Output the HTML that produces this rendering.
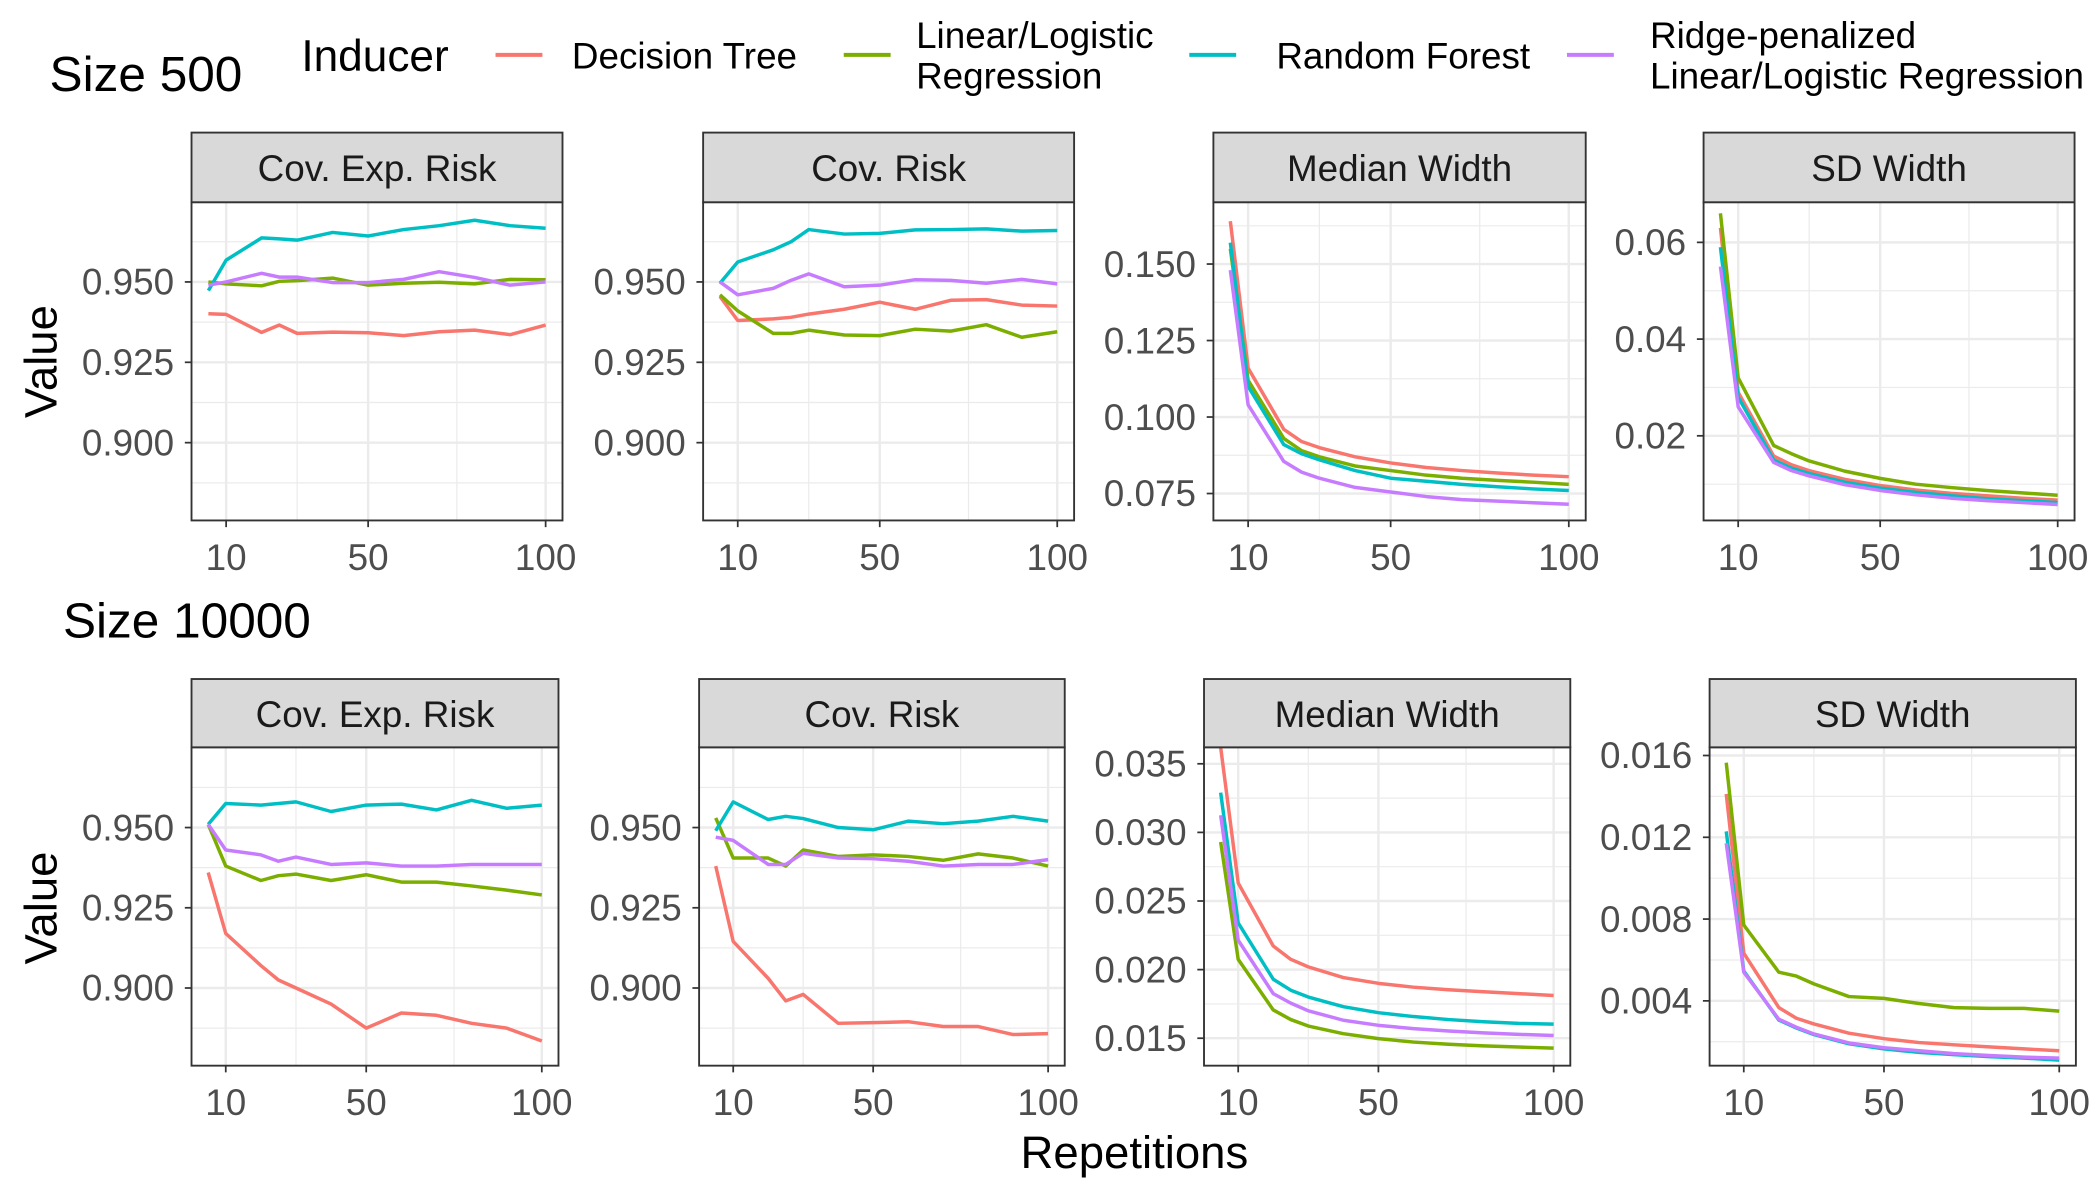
<!DOCTYPE html>
<html><head><meta charset="utf-8">
<style>
html,body{margin:0;padding:0;background:#fff;}
svg{display:block;font-family:"Liberation Sans",Arial,sans-serif;}
</style></head>
<body>
<svg id="chart" width="2100" height="1200" viewBox="0 0 1568 896" xmlns="http://www.w3.org/2000/svg">
  <rect x="0" y="0" width="1568" height="896" fill="#fff"/>
  <text x="37" y="68" font-size="37" fill="#000">Size 500</text>
  <text x="47" y="476" font-size="37" fill="#000">Size 10000</text>
  <g>
    <text x="225" y="53" font-size="33" fill="#000">Inducer</text>
    <g>
      <line x1="370" y1="41" x2="405" y2="41" stroke="#F8766D" stroke-width="3"/>
      <text x="427" y="51" font-size="27.5" fill="#000">Decision Tree</text>
    </g>
    <g>
      <line x1="630" y1="41" x2="665" y2="41" stroke="#7CAE00" stroke-width="3"/>
      <text x="684" y="36" font-size="27.5" fill="#000">Linear/Logistic</text>
      <text x="684" y="66" font-size="27.5" fill="#000">Regression</text>
    </g>
    <g>
      <line x1="888" y1="41" x2="923" y2="41" stroke="#00BFC4" stroke-width="3"/>
      <text x="953" y="51" font-size="27.5" fill="#000">Random Forest</text>
    </g>
    <g>
      <line x1="1170" y1="41" x2="1205" y2="41" stroke="#C77CFF" stroke-width="3"/>
      <text x="1232" y="36" font-size="27.5" fill="#000">Ridge-penalized</text>
      <text x="1232" y="66" font-size="27.5" fill="#000">Linear/Logistic Regression</text>
    </g>
  </g>
  <text transform="translate(42,270) rotate(-90)" text-anchor="middle" font-size="34" fill="#000">Value</text>
  <text transform="translate(42,678) rotate(-90)" text-anchor="middle" font-size="34" fill="#000">Value</text>
  <text x="847" y="872" text-anchor="middle" font-size="34" fill="#000">Repetitions</text>
  <g id="panels"></g>
</svg>
<script>
// ---- data ----
const repetitions = [5,10,20,25,30,40,50,60,70,80,90,100];
const seriesNames = ["Decision Tree","Linear/Logistic Regression","Random Forest","Ridge-penalized Linear/Logistic Regression"];
const panelTitles = ["Cov. Exp. Risk","Cov. Risk","Median Width","SD Width","Cov. Exp. Risk","Cov. Risk","Median Width","SD Width"];

// Size 500
const s500CovExpTree  = [0.9401,0.9399,0.9343,0.9366,0.9340,0.9344,0.9342,0.9333,0.9345,0.9350,0.9336,0.9366];
const s500CovExpLin   = [0.9500,0.9494,0.9488,0.9502,0.9504,0.9512,0.9490,0.9496,0.9499,0.9494,0.9508,0.9507];
const s500CovExpRF    = [0.9473,0.9568,0.9637,0.9634,0.9630,0.9654,0.9643,0.9663,0.9675,0.9692,0.9675,0.9667];
const s500CovExpRidge = [0.9490,0.9500,0.9527,0.9515,0.9515,0.9498,0.9498,0.9508,0.9532,0.9514,0.9490,0.9500];

const s500CovTree  = [0.9455,0.9380,0.9385,0.9390,0.9400,0.9415,0.9437,0.9415,0.9443,0.9445,0.9428,0.9425];
const s500CovLin   = [0.9460,0.9410,0.9340,0.9340,0.9350,0.9335,0.9333,0.9353,0.9347,0.9367,0.9328,0.9345];
const s500CovRF    = [0.9496,0.9562,0.9600,0.9625,0.9663,0.9649,0.9651,0.9662,0.9663,0.9665,0.9658,0.9660];
const s500CovRidge = [0.9500,0.9460,0.9480,0.9505,0.9525,0.9485,0.9490,0.9507,0.9505,0.9496,0.9508,0.9494];

const s500MedTree  = [0.164,0.116,0.096,0.092,0.090,0.087,0.085,0.0835,0.0825,0.0817,0.0810,0.0805];
const s500MedLin   = [0.155,0.112,0.093,0.089,0.087,0.084,0.0825,0.0810,0.0800,0.0793,0.0787,0.0780];
const s500MedRF    = [0.157,0.110,0.091,0.088,0.086,0.0825,0.0800,0.0790,0.0780,0.0772,0.0765,0.0760];
const s500MedRidge = [0.148,0.104,0.0855,0.082,0.080,0.077,0.0755,0.0740,0.0730,0.0725,0.0720,0.0715];

const s500SdTree  = [0.063,0.029,0.0158,0.0140,0.0128,0.0110,0.0097,0.0088,0.0081,0.0076,0.0071,0.0067];
const s500SdLin   = [0.066,0.032,0.0180,0.0163,0.0148,0.0127,0.0112,0.0100,0.0093,0.0087,0.0082,0.0077];
const s500SdRF    = [0.059,0.028,0.0150,0.0133,0.0122,0.0104,0.0092,0.0083,0.0076,0.0070,0.0066,0.0062];
const s500SdRidge = [0.055,0.026,0.0145,0.0128,0.0117,0.0099,0.0087,0.0078,0.0071,0.0066,0.0062,0.0058];

// Size 10000
const s10kCovExpTree  = [0.9360,0.9170,0.9070,0.9025,0.9000,0.8950,0.8875,0.8922,0.8915,0.8890,0.8875,0.8835];
const s10kCovExpLin   = [0.9510,0.9380,0.9335,0.9350,0.9355,0.9335,0.9353,0.9330,0.9330,0.9318,0.9305,0.9290];
const s10kCovExpRF    = [0.9510,0.9575,0.9570,0.9575,0.9580,0.9550,0.9570,0.9573,0.9555,0.9585,0.9560,0.9570];
const s10kCovExpRidge = [0.9510,0.9430,0.9415,0.9395,0.9408,0.9385,0.9390,0.9380,0.9380,0.9385,0.9385,0.9385];

const s10kCovTree  = [0.9380,0.9145,0.9030,0.8960,0.8980,0.8890,0.8892,0.8895,0.8880,0.8880,0.8855,0.8858];
const s10kCovLin   = [0.9530,0.9405,0.9405,0.9380,0.9430,0.9410,0.9415,0.9410,0.9398,0.9418,0.9405,0.9380];
const s10kCovRF    = [0.9490,0.9580,0.9525,0.9535,0.9528,0.9500,0.9493,0.9520,0.9512,0.9520,0.9535,0.9520];
const s10kCovRidge = [0.9470,0.9460,0.9385,0.9385,0.9420,0.9405,0.9403,0.9395,0.9380,0.9385,0.9385,0.9400];

const s10kMedTree  = [0.0362,0.02631,0.02172,0.02075,0.02020,0.01942,0.01900,0.01872,0.01853,0.01839,0.01825,0.01811];
const s10kMedLin   = [0.0293,0.02075,0.01706,0.01636,0.01589,0.01533,0.01497,0.01472,0.01456,0.01444,0.01436,0.01428];
const s10kMedRF    = [0.0329,0.02340,0.01930,0.01850,0.01800,0.01730,0.01686,0.01658,0.01636,0.01620,0.01608,0.01603];
const s10kMedRidge = [0.03125,0.02214,0.01825,0.01756,0.01700,0.01631,0.01594,0.01570,0.01553,0.01539,0.01528,0.01520];

const s10kSdTree  = [0.01412,0.00633,0.00367,0.00315,0.00287,0.00242,0.00215,0.00196,0.00185,0.00175,0.00165,0.00156];
const s10kSdLin   = [0.01565,0.00771,0.00540,0.00521,0.00483,0.00421,0.00412,0.00387,0.00367,0.00363,0.00363,0.00350];
const s10kSdRF    = [0.01229,0.00546,0.00306,0.00267,0.00235,0.00190,0.00165,0.00148,0.00137,0.00127,0.00120,0.00110];
const s10kSdRidge = [0.01171,0.00540,0.00310,0.00271,0.00238,0.00194,0.00171,0.00156,0.00142,0.00133,0.00125,0.00120];

const xTickValues = [10,50,100];
const xTickLabels = ["10","50","100"];
const yTicksCov = [0.900,0.925,0.950];
const yTickLabelsCov = ["0.900","0.925","0.950"];
const yTicksMed500 = [0.075,0.100,0.125,0.150];
const yTickLabelsMed500 = ["0.075","0.100","0.125","0.150"];
const yTicksSd500 = [0.02,0.04,0.06];
const yTickLabelsSd500 = ["0.02","0.04","0.06"];
const yTicksMed10k = [0.015,0.020,0.025,0.030,0.035];
const yTickLabelsMed10k = ["0.015","0.020","0.025","0.030","0.035"];
const yTicksSd10k = [0.004,0.008,0.012,0.016];
const yTickLabelsSd10k = ["0.004","0.008","0.012","0.016"];

// ---- layout ----
const colors = ["#F8766D","#7CAE00","#00BFC4","#C77CFF"];
const panels = [
  {x0:143,x1:420,sy:99,y0:151,y1:388.6,ymin:0.8758,ymax:0.9748,ticks:yTicksCov,labels:yTickLabelsCov,series:[s500CovExpTree,s500CovExpLin,s500CovExpRF,s500CovExpRidge],name:"size500-cov-exp-risk"},
  {x0:525,x1:802,sy:99,y0:151,y1:388.6,ymin:0.8758,ymax:0.9748,ticks:yTicksCov,labels:yTickLabelsCov,series:[s500CovTree,s500CovLin,s500CovRF,s500CovRidge],name:"size500-cov-risk"},
  {x0:906,x1:1184,sy:99,y0:151,y1:388.6,ymin:0.0662,ymax:0.1702,ticks:yTicksMed500,labels:yTickLabelsMed500,series:[s500MedTree,s500MedLin,s500MedRF,s500MedRidge],name:"size500-median-width"},
  {x0:1272,x1:1549,sy:99,y0:151,y1:388.6,ymin:0.0025,ymax:0.0683,ticks:yTicksSd500,labels:yTickLabelsSd500,series:[s500SdTree,s500SdLin,s500SdRF,s500SdRidge],name:"size500-sd-width"},
  {x0:143,x1:417,sy:507,y0:558,y1:795.7,ymin:0.8758,ymax:0.9750,ticks:yTicksCov,labels:yTickLabelsCov,series:[s10kCovExpTree,s10kCovExpLin,s10kCovExpRF,s10kCovExpRidge],name:"size10000-cov-exp-risk"},
  {x0:522,x1:795,sy:507,y0:558,y1:795.7,ymin:0.8758,ymax:0.9750,ticks:yTicksCov,labels:yTickLabelsCov,series:[s10kCovTree,s10kCovLin,s10kCovRF,s10kCovRidge],name:"size10000-cov-risk"},
  {x0:899,x1:1172.5,sy:507,y0:558,y1:795.7,ymin:0.0130,ymax:0.0362,ticks:yTicksMed10k,labels:yTickLabelsMed10k,series:[s10kMedTree,s10kMedLin,s10kMedRF,s10kMedRidge],name:"size10000-median-width"},
  {x0:1276.5,x1:1550,sy:507,y0:558,y1:795.7,ymin:0.00083,ymax:0.0164,ticks:yTicksSd10k,labels:yTickLabelsSd10k,series:[s10kSdTree,s10kSdLin,s10kSdRF,s10kSdRidge],name:"size10000-sd-width"}
];
const NS = "http://www.w3.org/2000/svg";
const root = document.getElementById("panels");
function mk(tag, attrs, parent){
  const e = document.createElementNS(NS, tag);
  for (const k in attrs) e.setAttribute(k, attrs[k]);
  parent.appendChild(e);
  return e;
}
const xMinD = Math.min(...repetitions), xMaxD = Math.max(...repetitions);
const xPad = (xMaxD - xMinD) * 0.05;
panels.forEach((p, pi) => {
  const g = mk("g", {}, root);
  
  
  const xs = v => p.x0 + (v - (xMinD - xPad)) / ((xMaxD + xPad) - (xMinD - xPad)) * (p.x1 - p.x0);
  const ys = v => p.y1 - (v - p.ymin) / (p.ymax - p.ymin) * (p.y1 - p.y0);
  const clipId = "clip" + pi;
  const cp = mk("clipPath", {id: clipId}, g);
  mk("rect", {x:p.x0, y:p.y0, width:p.x1-p.x0, height:p.y1-p.y0}, cp);
  const step = p.ticks[1] - p.ticks[0];
  const minorY = [];
  for (let i = -1; i < p.ticks.length; i++) minorY.push(p.ticks[0] + (i + 0.5) * step);
  minorY.filter(v => v > p.ymin && v < p.ymax).forEach(v => {
    const l = mk("line", {x1:p.x0, x2:p.x1, y1:ys(v), y2:ys(v), stroke:"#ebebeb", "stroke-width":0.9}, g);
    
    
  });
  const minorX = [];
  for (let i = 0; i < xTickValues.length - 1; i++) minorX.push((xTickValues[i] + xTickValues[i+1]) / 2);
  minorX.forEach(v => {
    const l = mk("line", {x1:xs(v), x2:xs(v), y1:p.y0, y2:p.y1, stroke:"#ebebeb", "stroke-width":0.9}, g);
    
    
  });
  p.ticks.forEach((v, i) => {
    const l = mk("line", {x1:p.x0, x2:p.x1, y1:ys(v), y2:ys(v), stroke:"#ebebeb", "stroke-width":1.8}, g);
    
    
    mk("line", {x1:p.x0-5, x2:p.x0, y1:ys(v), y2:ys(v), stroke:"#333", "stroke-width":1.3}, g);
    const t = mk("text", {x:p.x0-13, y:ys(v)+9.5, "text-anchor":"end", "font-size":27.5, fill:"#4d4d4d"}, g);
    t.textContent = p.labels[i];
    
    
  });
  xTickValues.forEach((v, i) => {
    const l = mk("line", {x1:xs(v), x2:xs(v), y1:p.y0, y2:p.y1, stroke:"#ebebeb", "stroke-width":1.8}, g);
    
    
    mk("line", {x1:xs(v), x2:xs(v), y1:p.y1, y2:p.y1+5, stroke:"#333", "stroke-width":1.3}, g);
    const t = mk("text", {x:xs(v), y:p.y1+37, "text-anchor":"middle", "font-size":27.5, fill:"#4d4d4d"}, g);
    t.textContent = xTickLabels[i];
    
    
  });
  p.series.forEach((vals, si) => {
    const d = vals.map((v, i) => (i ? "L" : "M") + xs(repetitions[i]).toFixed(2) + "," + ys(v).toFixed(2)).join(" ");
    const path = mk("path", {d:d, fill:"none", stroke:colors[si], "stroke-width":2.6, "clip-path":"url(#" + clipId + ")", "stroke-linejoin":"round"}, g);
    
    
  });
  const b = mk("rect", {x:p.x0, y:p.y0, width:p.x1-p.x0, height:p.y1-p.y0, fill:"none", stroke:"#333", "stroke-width":1.4}, g);
  
  
  const s = mk("rect", {x:p.x0, y:p.sy, width:p.x1-p.x0, height:p.y0-p.sy, fill:"#d9d9d9", stroke:"#333", "stroke-width":1.4}, g);
  
  
  const st = mk("text", {x:(p.x0+p.x1)/2, y:p.sy+36, "text-anchor":"middle", "font-size":27.5, fill:"#1a1a1a"}, g);
  st.textContent = panelTitles[pi];
  
  
});
</script>
</body></html>
